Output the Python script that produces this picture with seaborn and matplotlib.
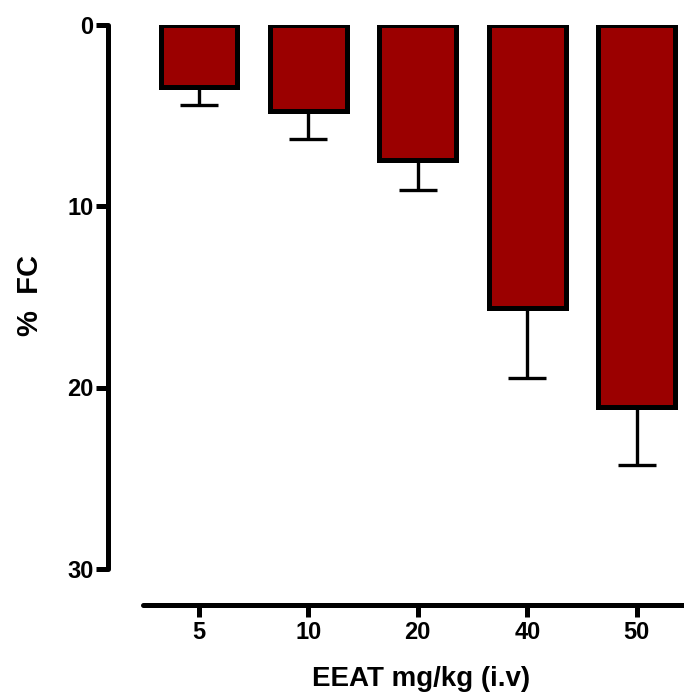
import matplotlib
matplotlib.use("Agg")
import matplotlib.pyplot as plt
import seaborn as sns
import pandas as pd

doses = ["5", "10", "20", "40", "50"]
means = [3.4, 4.75, 7.45, 15.6, 21.05]
errors = [1.0, 1.55, 1.65, 3.9, 3.25]

sns.set_style("ticks", {"axes.edgecolor": "black", "xtick.color": "black",
                        "ytick.color": "black", "text.color": "black",
                        "axes.labelcolor": "black"})
plt.rcParams['font.family'] = ['Liberation Sans', 'DejaVu Sans']
plt.rcParams['font.weight'] = 'bold'

df = pd.DataFrame({"dose": doses, "fc": means})

fig = plt.figure(figsize=(6.84, 6.95), dpi=100)
ax = fig.add_axes([108/684, 90/695, (686-108)/684, (605-25)/695])

sns.barplot(data=df, x="dose", y="fc", color="#9B0000", saturation=1,
            edgecolor="black", linewidth=3.6, width=0.7, errorbar=None, ax=ax)
ax.errorbar(range(len(doses)), means, yerr=[[0]*len(errors), errors],
            fmt="none", ecolor="black", elinewidth=2.4, capsize=13.5,
            capthick=2.4, zorder=1)

ax.set_xlim(-0.83, 4.45)
ax.set_ylim(32, 0)
ax.set_yticks([0, 10, 20, 30])
for s in ["top", "right"]:
    ax.spines[s].set_visible(False)
ax.spines["left"].set_bounds(0, 30)
ax.spines["bottom"].set_bounds(-0.51, 4.45)
for s in ["left", "bottom"]:
    ax.spines[s].set_linewidth(3.6)
    ax.spines[s].set_capstyle("round")
ax.tick_params(axis="both", width=3.6, length=8.5, labelsize=17, pad=2,
               colors="black")
ax.tick_params(axis="x", pad=3)
for lab in ax.get_xticklabels() + ax.get_yticklabels():
    lab.set_fontweight("bold")

ax.set_xlabel("EEAT mg/kg (i.v)", fontsize=20, fontweight="bold")
ax.set_ylabel("%  FC", fontsize=21, fontweight="bold")
ax.xaxis.set_label_coords(0.5415, -0.106)
ax.yaxis.set_label_coords(-0.11, 0.534)

fig.savefig("out.png", dpi=100)
